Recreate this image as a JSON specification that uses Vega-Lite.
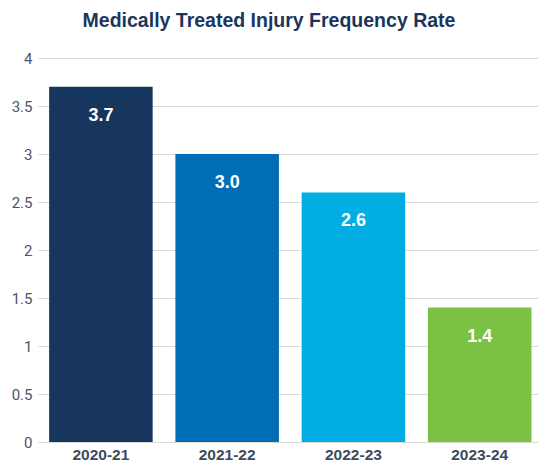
{
  "$schema": "https://vega.github.io/schema/vega-lite/v6.json",
  "autosize": {"type": "none"},
  "width": 500,
  "height": 384,
  "padding": {"left": 38, "top": 58, "right": 0, "bottom": 21},
  "background": "white",
  "title": {
    "text": "Medically Treated Injury Frequency Rate",
    "font": "Liberation Sans, Arial, sans-serif",
    "fontWeight": "bold",
    "fontSize": 19.5,
    "color": "#1b365d",
    "anchor": "middle",
    "dx": -19,
    "offset": 20
  },
  "config": {"view": {"stroke": null}},
  "data": {
    "values": [
      {"year": "2020-21", "rate": 3.7, "label": "3.7"},
      {"year": "2021-22", "rate": 3.0, "label": "3.0"},
      {"year": "2022-23", "rate": 2.6, "label": "2.6"},
      {"year": "2023-24", "rate": 1.4, "label": "1.4"}
    ]
  },
  "encoding": {
    "x": {
      "field": "year",
      "type": "nominal",
      "sort": null,
      "scale": {"paddingInner": 0.18, "paddingOuter": 0.07, "align": 0.63},
      "axis": {
        "title": null,
        "labelAngle": 0,
        "ticks": false,
        "domain": false,
        "labelFont": "Liberation Sans, Arial, sans-serif",
        "labelFontWeight": "bold",
        "labelFontSize": 15.5,
        "labelColor": "#3d4b5c",
        "labelPadding": 5
      }
    },
    "y": {
      "field": "rate",
      "type": "quantitative",
      "scale": {"domain": [0, 4], "nice": false},
      "axis": {
        "title": null,
        "values": [0, 0.5, 1, 1.5, 2, 2.5, 3, 3.5, 4],
        "format": "~g",
        "ticks": false,
        "domain": false,
        "gridColor": "#d9d9d9",
        "gridWidth": 1,
        "labelFont": "Roboto, sans-serif",
        "labelFontSize": 15,
        "labelColor": "#4a5568",
        "labelPadding": 6
      }
    }
  },
  "layer": [
    {
      "mark": {"type": "bar"},
      "encoding": {
        "color": {
          "field": "year",
          "type": "nominal",
          "sort": null,
          "scale": {"range": ["#17365d", "#006db5", "#00aee3", "#7bc143"]},
          "legend": null
        }
      }
    },
    {
      "mark": {
        "type": "text",
        "baseline": "top",
        "dy": 20,
        "color": "white",
        "font": "Liberation Sans, Arial, sans-serif",
        "fontWeight": "bold",
        "fontSize": 18
      },
      "encoding": {"text": {"field": "label"}}
    }
  ]
}
